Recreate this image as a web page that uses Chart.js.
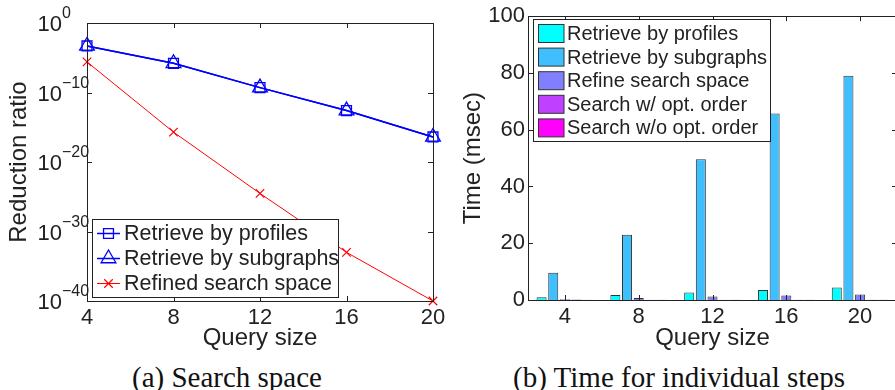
<!DOCTYPE html>
<html>
<head>
<meta charset="utf-8">
<script src="https://cdn.jsdelivr.net/npm/chart.js@4/dist/chart.umd.min.js"></script>
<style>
  body { margin: 0; background: #fff; }
  #page { position: relative; width: 895px; height: 390px; overflow: hidden; }
  .wrap { position: absolute; top: 0; overflow: hidden; }
  .caption { position: absolute; top: 360px; height: 34px; line-height: 34px; text-align: center;
             font-family: 'Liberation Serif', 'Times New Roman', serif; font-size: 29px; color: #111; white-space: nowrap; }
</style>
</head>
<body>
<div id="page">
  <div class="wrap" style="left:0;width:450px;height:350px"><canvas id="chartA" width="450" height="350"></canvas></div>
  <div class="wrap" style="left:450px;width:445px;height:350px"><canvas id="chartB" width="460" height="350"></canvas></div>
  <div class="caption" style="left:77px;width:300px">(a) Search space</div>
  <div class="caption" style="left:479px;width:400px">(b) Time for individual steps</div>
</div>
<script>
// (a) search space, reduction ratio (log scale)
const querySizes = [4, 8, 12, 16, 20];
const ratioProfiles = [5e-4, 1.6e-6, 5e-10, 2.5e-13, 4e-17];
const ratioSubgraphs = [5e-4, 1.6e-6, 5e-10, 2.5e-13, 4e-17];
const ratioRefined = [2.5e-6, 2e-16, 3e-25, 1e-33, 1e-40];
const ratioExponents = [0, -10, -20, -30, -40];

// (b) time for individual steps (msec)
const sizeLabels = ['4', '8', '12', '16', '20'];
const timeProfiles = [1.0, 1.8, 2.6, 3.5, 4.4];
const timeSubgraphs = [9.6, 23.0, 49.6, 65.7, 79.0];
const timeRefine = [0.3, 0.7, 1.2, 1.6, 1.9];
const timeSearchOpt = [0.2, 0.1, 0.1, 0.05, 0.05];
const timeSearchNoOpt = [0.1, 0.05, 0.05, 0.05, 0.05];

const FONT = "'Liberation Sans', Arial, Helvetica, sans-serif";
const INK = '#222';

function drawMarker(ctx, style, x, y, r) {
    ctx.beginPath();
    if (style === 'rect') {
        const s = r * Math.SQRT1_2;
        ctx.rect(x - s, y - s, 2 * s, 2 * s);
    } else if (style === 'triangle') {
        for (let k = 0; k < 3; k++) {
            const a = k * 2 * Math.PI / 3;
            const px = x + Math.sin(a) * r, py = y - Math.cos(a) * r;
            if (k === 0) ctx.moveTo(px, py); else ctx.lineTo(px, py);
        }
        ctx.closePath();
    } else if (style === 'crossRot') {
        const o = r * Math.SQRT1_2;
        ctx.moveTo(x - o, y - o); ctx.lineTo(x + o, y + o);
        ctx.moveTo(x - o, y + o); ctx.lineTo(x + o, y - o);
    }
    ctx.stroke();
}

// frame + inward tick marks, MATLAB style
function boxTicks(chart, xVals, yVals) {
    const { ctx, chartArea: a, scales } = chart;
    ctx.save();
    ctx.strokeStyle = INK;
    ctx.lineWidth = 1;
    ctx.strokeRect(Math.round(a.left) + 0.5, Math.round(a.top) + 0.5, Math.round(a.right - a.left), Math.round(a.bottom - a.top));
    ctx.beginPath();
    xVals.forEach(v => {
        const x = Math.round(scales.x.getPixelForValue(v)) + 0.5;
        ctx.moveTo(x, a.bottom); ctx.lineTo(x, a.bottom - 5);
        ctx.moveTo(x, a.top); ctx.lineTo(x, a.top + 5);
    });
    yVals.forEach(v => {
        const y = Math.round(scales.y.getPixelForValue(v)) + 0.5;
        ctx.moveTo(a.left, y); ctx.lineTo(a.left + 5, y);
        ctx.moveTo(a.right, y); ctx.lineTo(a.right - 5, y);
    });
    ctx.stroke();
    ctx.restore();
}

const frameA = {
    id: 'frameA',
    afterDatasetsDraw(chart) {
        boxTicks(chart, querySizes, ratioExponents.map(e => Math.pow(10, e)));
        const ctx = chart.ctx;
        const ys = chart.scales.y;
        ctx.save();
        ctx.fillStyle = INK;
        ctx.textBaseline = 'middle';
        ratioExponents.forEach(e => {
            const y = ys.getPixelForValue(Math.pow(10, e));
            ctx.font = '22px ' + FONT;
            ctx.textAlign = 'right';
            ctx.fillText('10', 62, y + 2);
            ctx.font = '16px ' + FONT;
            ctx.textAlign = 'left';
            ctx.fillText(e === 0 ? '0' : '\u2212' + Math.abs(e), 62, y - 9);
        });
        ctx.restore();
    },
    afterDraw(chart) {
        const ctx = chart.ctx;
        ctx.save();
        ctx.fillStyle = '#fff';
        ctx.fillRect(92, 219, 246, 78);
        ctx.strokeStyle = INK;
        ctx.lineWidth = 1;
        ctx.strokeRect(92.5, 219.5, 246, 78);
        chart.data.datasets.forEach((ds, i) => {
            const y = 233.5 + i * 25;
            ctx.strokeStyle = ds.borderColor;
            ctx.lineWidth = ds.borderWidth;
            ctx.beginPath(); ctx.moveTo(97, y); ctx.lineTo(120, y); ctx.stroke();
            ctx.lineWidth = ds.pointBorderWidth;
            drawMarker(ctx, ds.pointStyle, 108.5, y, ds.pointRadius);
            ctx.fillStyle = INK;
            ctx.font = '21.5px ' + FONT;
            ctx.textAlign = 'left';
            ctx.textBaseline = 'middle';
            ctx.fillText(ds.label, 124, y + 1);
        });
        ctx.restore();
    }
};

new Chart(document.getElementById('chartA'), {
    type: 'line',
    data: {
        datasets: [
            { label: 'Retrieve by profiles', data: querySizes.map((q, i) => ({ x: q, y: ratioProfiles[i] })),
              borderColor: '#0000ff', borderWidth: 1.5, pointStyle: 'rect', pointRadius: 7, pointBorderWidth: 1.3,
              pointBackgroundColor: 'transparent', pointBorderColor: '#0000ff', clip: false },
            { label: 'Retrieve by subgraphs', data: querySizes.map((q, i) => ({ x: q, y: ratioSubgraphs[i] })),
              borderColor: '#0000ff', borderWidth: 1.5, pointStyle: 'triangle', pointRadius: 8.5, pointBorderWidth: 1.3,
              pointBackgroundColor: 'transparent', pointBorderColor: '#0000ff', clip: false },
            { label: 'Refined search space', data: querySizes.map((q, i) => ({ x: q, y: ratioRefined[i] })),
              borderColor: '#ff0000', borderWidth: 1, pointStyle: 'crossRot', pointRadius: 6, pointBorderWidth: 1.2,
              pointBackgroundColor: 'transparent', pointBorderColor: '#ff0000', clip: false }
        ]
    },
    options: {
        responsive: false,
        animation: false,
        layout: { padding: { top: 23, right: 17, left: 0, bottom: 0 } },
        plugins: { legend: { display: false }, tooltip: { enabled: false } },
        scales: {
            x: {
                type: 'linear', min: 4, max: 20,
                afterBuildTicks: s => { s.ticks = querySizes.map(v => ({ value: v })); },
                grid: { display: false, drawTicks: false }, border: { display: false },
                ticks: { color: INK, font: { family: FONT, size: 22 }, padding: 4 },
                title: { display: true, text: 'Query size', color: INK, font: { family: FONT, size: 24, lineHeight: 1 }, padding: 0 },
                afterFit: s => { s.height = 49; }
            },
            y: {
                type: 'logarithmic', min: 1e-40, max: 1,
                grid: { display: false, drawTicks: false }, border: { display: false },
                ticks: { display: false },
                title: { display: true, text: 'Reduction ratio', color: INK, font: { family: FONT, size: 24, lineHeight: 1 }, padding: { top: 7, bottom: 0 } },
                afterFit: s => { s.width = 87; }
            }
        }
    },
    plugins: [frameA]
});

const frameB = {
    id: 'frameB',
    afterDatasetsDraw(chart) {
        boxTicks(chart, [0, 1, 2, 3, 4], [0, 20, 40, 60, 80, 100]);
    },
    afterDraw(chart) {
        const ctx = chart.ctx;
        ctx.save();
        ctx.fillStyle = '#fff';
        ctx.fillRect(83, 19, 237, 122);
        ctx.strokeStyle = INK;
        ctx.lineWidth = 1;
        ctx.strokeRect(83.5, 19.5, 237, 122);
        chart.data.datasets.forEach((ds, i) => {
            const y = 33.5 + i * 23.6;
            ctx.fillStyle = ds.backgroundColor;
            ctx.fillRect(88.5, y - 9, 25.5, 18);
            ctx.strokeStyle = '#333';
            ctx.strokeRect(88.5, y - 9, 25.5, 18);
            ctx.fillStyle = INK;
            ctx.font = '20px ' + FONT;
            ctx.textAlign = 'left';
            ctx.textBaseline = 'middle';
            ctx.fillText(ds.label, 117, y + 1);
        });
        ctx.restore();
    }
};

const barStyle = { borderColor: '#333', borderWidth: 1, categoryPercentage: 0.79, barPercentage: 0.86 };

new Chart(document.getElementById('chartB'), {
    type: 'bar',
    data: {
        labels: sizeLabels,
        datasets: [
            { label: 'Retrieve by profiles', data: timeProfiles, backgroundColor: '#00ffff', ...barStyle },
            { label: 'Retrieve by subgraphs', data: timeSubgraphs, backgroundColor: '#40bfff', ...barStyle },
            { label: 'Refine search space', data: timeRefine, backgroundColor: '#8080ff', ...barStyle },
            { label: 'Search w/ opt. order', data: timeSearchOpt, backgroundColor: '#bf40ff', ...barStyle },
            { label: 'Search w/o opt. order', data: timeSearchNoOpt, backgroundColor: '#ff00ff', ...barStyle }
        ]
    },
    options: {
        responsive: false,
        animation: false,
        layout: { padding: { top: 15, right: 13, left: 0, bottom: 0 } },
        plugins: { legend: { display: false }, tooltip: { enabled: false } },
        scales: {
            x: {
                grid: { display: false, drawTicks: false }, border: { display: false },
                ticks: { color: INK, font: { family: FONT, size: 22 }, padding: 4 },
                title: { display: true, text: 'Query size', color: INK, font: { family: FONT, size: 24, lineHeight: 1 }, padding: 0 },
                afterFit: s => { s.height = 50; }
            },
            y: {
                min: 0, max: 100,
                grid: { display: false, drawTicks: false }, border: { display: false },
                ticks: { stepSize: 20, color: INK, font: { family: FONT, size: 22 }, padding: 3 },
                title: { display: true, text: 'Time (msec)', color: INK, font: { family: FONT, size: 24, lineHeight: 1 }, padding: { top: 11, bottom: 0 } },
                afterFit: s => { s.width = 78; }
            }
        }
    },
    plugins: [frameB]
});
</script>
</body>
</html>
